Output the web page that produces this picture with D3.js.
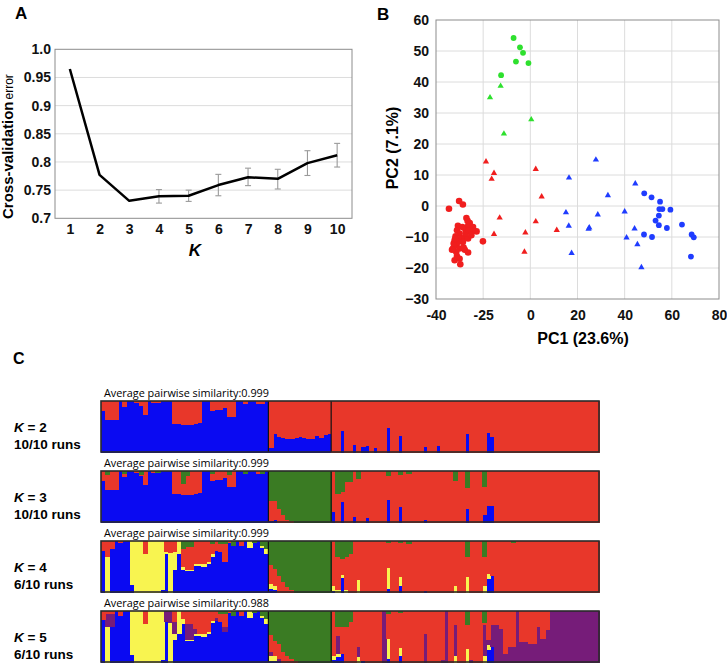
<!DOCTYPE html>
<html><head><meta charset="utf-8">
<script src="https://cdn.jsdelivr.net/npm/d3@7"></script>
<style>body{margin:0;background:#fff}svg{display:block}</style>
</head><body>
<svg id="chart" width="727" height="669"></svg>
<script>
// ---------------- Panel A data ----------------
const kValues = [1,2,3,4,5,6,7,8,9,10];
const cvError = [0.965,0.777,0.731,0.739,0.740,0.759,0.773,0.770,0.798,0.812];
const cvErrLow = [null,null,null,0.727,0.730,0.740,0.758,0.752,0.776,0.791];
const cvErrHigh = [null,null,null,0.751,0.750,0.778,0.789,0.787,0.820,0.833];
const cvTicks = [0.7,0.75,0.8,0.85,0.9,0.95,1.0];
const cvTickLabels = ["0.7","0.75","0.8","0.85","0.9","0.95","1.0"];

// ---------------- Panel B data ----------------
const pcXTicks = [-40,-20,0,20,40,60,80];
const pcXTickLabels = ["-40","-25","0","20","40","60","80"];
const pcYTicks = [-30,-20,-10,0,10,20,30,40,50,60];
const redCircles = [[-34.5,-0.9],[-30.2,1.6],[-28.6,0.5],[-27.1,-3.9],[-25.7,-5.5],[-26.4,-6.5],[-24.3,-6.8],[-22.8,-8.2],[-24.7,-8.0],[-27.4,-7.8],[-30.7,-6.4],[-31.1,-7.8],[-30.0,-8.9],[-31.7,-9.8],[-32.1,-11.1],[-32.8,-13.7],[-31.4,-12.7],[-29.3,-10.5],[-27.8,-10.2],[-26.4,-10.5],[-30.0,-13.7],[-27.8,-14.1],[-26.4,-15.0],[-32.1,-17.5],[-30.0,-17.0],[-29.7,-18.8],[-31.1,-16.2],[-28.6,-11.6],[-27.4,-8.9],[-26.0,-7.8],[-30.7,-11.6],[-32.5,-12.1],[-20.1,-11.4],[-28.8,-6.8],[-25.0,-9.4],[-31.4,-14.8],[-31.8,-10.6],[-26.6,-4.8],[-33.2,-14.1],[-28.3,-13.4]];
const redTriangles = [[-18.8,14.3],[-15.4,10.6],[-16.4,8.7],[2.3,11.9],[4.8,3.0],[-13.0,-3.8],[2.3,-5.0],[-15.4,-9.1],[-2.1,-8.6],[11.2,-7.8],[-2.5,-14.8]];
const greenCircles = [[-7.1,54.2],[-4.4,51.2],[-3.1,49.4],[-6.1,46.6],[-0.8,46.1],[-12.4,42.2]];
const greenTriangles = [[-12.6,38.7],[-17.1,35.0],[0.4,27.9],[-11.2,23.3]];
const blueTriangles = [[27.8,14.9],[16.4,9.1],[44.5,7.2],[32.9,3.4],[15.1,-2.1],[40.0,-1.8],[28.6,-2.8],[16.3,-6.4],[25.0,-7.0],[24.7,-7.4],[44.2,-7.3],[40.8,-10.2],[45.4,-12.4],[17.5,-15.2],[47.1,-19.8]];
const blueCircles = [[48.3,4.1],[51.4,2.8],[55.0,1.4],[54.7,-1.0],[56.0,-1.0],[59.4,-1.2],[53.1,-4.7],[54.5,-3.1],[54.5,-6.2],[57.9,-7.1],[64.3,-6.0],[48.2,-9.2],[51.6,-10.0],[68.4,-9.2],[69.3,-10.1],[68.1,-16.3]];

// ---------------- Panel C data ----------------
// individuals: 40 (group 1) + 15 (group 2) + 64 (group 3); red = remainder
const groupSizes = [40,15,64];
const rowLabels = ["2","3","4","5"];
const rowRuns = ["10/10 runs","10/10 runs","6/10 runs","6/10 runs"];
const rowSimilarity = ["0.999","0.999","0.999","0.988"];

const k2Blue = [.82,.64,.64,.64,1,.89,1,1,.98,.92, .73,1,.98,.97,1,1,1,.56,.55,.54, .54,.53,.55,.57,1,1,.82,.83,.83,.87, .69,.69,1,1,.95,1,1,.96,.96,1,
  .08,.37,.3,.28,.27,.27,.28,.3,.29,.27,.27,.32,.28,.35,.37,
  0,0,.43,0,0,.15,0,.1,.12,0, .08,0,0,.48,0,0,.33,0,0,0, 0,0,.1,0,0,.12,0,0,0,0, 0,0,.37,0,0,0,0,.38,.3,0, 0,0,0,0,0,0,0,0,0,0, 0,0,0,0,0,0,0,0,0,0, 0,0,0,0];

const k3Blue = [.82,.64,.64,.64,1,.89,1,1,.98,.92, .73,1,.98,.97,1,1,1,.56,.55,.54, .54,.53,.55,.57,1,1,.82,.83,.83,.87, .69,.69,1,1,.95,1,1,.96,.96,1,
  .03,.05,0,0,0,0,0,0,0,0,0,0,0,0,0,
  .2,0,.4,0,0,.1,0,0,.08,0, 0,0,0,.44,0,0,.3,0,0,0, 0,0,.04,0,0,0,0,0,0,0, 0,0,.27,0,0,0,.14,.33,.33,0, 0,0,0,0,0,0,0,0,0,0, 0,0,0,0,0,0,0,0,0,0, 0,0,0,0];
const k3Green = [0,.06,0,0,0,.05,0,0,0,.06, 0,0,0,.03,0,0,0,0,0,.25, .08,0,0,0,0,0,.05,0,0,0, .06,0,0,0,.05,0,0,0,.04,0,
  .57,.57,.73,.86,.95,.98,1,1,1,1,1,1,1,1,1,
  0,.45,.4,.2,.2,0,.15,0,0,0, 0,0,0,.08,0,0,.06,0,.04,0, 0,0,0,0,0,0,0,0,0,.19, 0,0,.32,0,0,0,.31,0,0,0, 0,0,0,0,0,0,0,0,0,0, 0,0,0,0,0,0,0,0,0,0, 0,0,0,0];

const k4Blue = [.82,0,.86,1,.97,1,1,.15,0,0, 0,0,0,0,.05,.75,0,.45,.75,.45, .42,.42,.52,.52,.5,.55,.7,.82,.8,.6, .97,.92,1,.92,1,.88,.97,1,.87,.75,
  .07,.05,0,0,0,0,0,0,0,0,0,0,0,0,0,
  .03,0,.28,0,0,0,0,0,0,0, 0,0,0,.07,0,0,.13,0,0,0, 0,0,.02,0,0,0,0,0,0,0, 0,0,0,0,0,0,0,.27,.32,0, 0,0,0,0,0,0,0,0,0,0, 0,0,0,0,0,0,0,0,0,0, 0,0,0,0];
const k4Yellow = [0,.7,0,0,0,0,0,.85,1,1, .75,1,1,1,.95,.05,.78,.35,.25,.05, .03,.03,.03,.03,.05,.05,.05,0,0,0, 0,0,0,0,0,.12,0,0,.05,.1,
  .1,.08,0,0,0,0,0,0,0,0,0,0,0,0,0,
  .1,.05,.07,.05,0,0,.24,0,0,0, 0,0,0,.42,0,0,.18,0,0,0, 0,0,0,0,0,0,0,0,0,.13, 0,0,.3,0,0,0,.13,.1,0,0, 0,0,0,0,0,0,0,0,0,0, 0,0,0,0,0,0,0,0,0,0, 0,0,0,0];
const k4Green = [0,0,0,0,0,0,0,0,0,0, 0,0,0,0,0,0,0,0,0,.15, .1,.1,0,0,0,0,.05,0,.05,.05, 0,.08,0,0,0,0,.03,0,.08,.15,
  .47,.54,.67,.8,.9,.95,1,1,1,1,1,1,1,1,1,
  0,.3,.35,.3,.25,0,0,0,0,0, 0,0,0,.03,0,0,.03,0,.04,0, 0,0,0,0,0,0,0,0,0,0, 0,0,.3,0,0,0,.3,0,0,0, 0,0,0,.03,0,0,0,0,0,0, 0,0,0,0,0,0,0,0,0,0, 0,0,0,0];

const k5Blue = [.83,0,.7,1,.92,1,1,.15,0,0, 0,0,0,0,.05,.8,0,.45,.55,.75, .42,.42,.52,.52,.5,.55,.77,.82,.8,.6, .97,.92,1,.92,1,.88,.97,1,.87,.75,
  .03,.03,.03,0,0,0,0,0,0,0,0,0,0,0,0,
  .05,.1,.17,0,0,0,0,.03,0,0, 0,0,0,.07,0,0,.13,0,0,0, 0,0,0,0,0,0,0,0,0,0, 0,0,0,0,0,0,0,.25,.3,0, 0,0,0,0,0,0,0,0,0,0, 0,0,0,0,0,0,0,0,0,0, 0,0,0,0];
const k5Yellow = [0,.7,0,0,0,0,0,.85,1,1, .75,1,1,1,.95,0,.78,.1,.45,.1, .03,.03,.03,.03,.05,.05,.05,0,0,0, 0,0,0,0,0,.12,0,0,.05,.1,
  .1,.1,0,0,0,0,0,0,0,0,0,0,0,0,0,
  .07,.07,0,0,0,0,.1,0,0,0, 0,0,0,.4,0,0,.16,0,0,0, 0,0,0,0,0,0,0,0,0,.13, 0,0,.26,0,0,0,.13,.1,0,0, 0,0,0,0,0,0,0,0,0,0, 0,0,0,0,0,0,0,0,0,0, 0,0,0,0];
const k5Purple = [0,.25,.25,0,0,0,0,0,0,0, 0,0,0,0,0,.2,.22,.25,0,0, .3,.3,.1,0,0,0,0,.05,0,.1, 0,0,0,0,0,0,0,0,0,0,
  .07,0,.03,0,0,0,0,0,0,0,0,0,0,0,0,
  0,.35,0,0,0,0,.2,0,0,0, 0,0,1,0,0,0,0,0,0,0, 0,0,.55,0,0,0,.05,1,0,.6, 0,0,0,.04,0,0,.6,.1,.43,.73, .66,.17,.3,.3,1,.4,.4,.37,.37,.7, .46,.64,1,1,1,1,1,1,1,1, 1,1,1,1];
const k5Green = [0,0,0,0,0,0,0,0,0,0, 0,0,0,0,0,0,0,0,0,0, 0,0,0,0,0,0,0,0,.05,.05, 0,.08,0,0,0,0,.03,0,.08,.15,
  .47,.57,.64,.8,.87,.93,.97,1,1,1,1,1,1,1,1,
  0,.3,.3,.3,.2,0,0,0,0,0, 0,0,0,.05,0,0,.03,0,0,0, 0,0,0,0,0,0,0,0,0,0, 0,0,.27,0,0,0,.22,0,0,0, 0,0,0,0,0,0,0,0,0,0, 0,0,0,0,0,0,0,0,0,0, 0,0,0,0];

const structRows = [
  {blue:k2Blue},
  {blue:k3Blue, green:k3Green},
  {blue:k4Blue, yellow:k4Yellow, green:k4Green},
  {blue:k5Blue, yellow:k5Yellow, purple:k5Purple, green:k5Green}
];

// ---------------- Drawing ----------------
const svg = d3.select("#chart");
svg.append("rect").attr("width",727).attr("height",669).attr("fill","#fff");
const FONT = "'Liberation Sans', Arial, sans-serif";

// Panel labels
svg.append("text").attr("x",15).attr("y",19).text("A").attr("font-family",FONT).attr("font-weight","bold").attr("font-size",17);
svg.append("text").attr("x",377).attr("y",20).text("B").attr("font-family",FONT).attr("font-weight","bold").attr("font-size",17);
svg.append("text").attr("x",13).attr("y",364).text("C").attr("font-family",FONT).attr("font-weight","bold").attr("font-size",16);

// ---- Panel A
(function(){
  const x = d3.scalePoint().domain(kValues).range([55,352]).padding(0.5);
  const y = d3.scaleLinear().domain([0.7,1.0]).range([218.3,49.3]);
  const g = svg.append("g");
  g.selectAll("line.grid").data(cvTicks.slice(1,-1)).join("line")
    .attr("x1",55).attr("x2",352).attr("y1",d=>y(d)).attr("y2",d=>y(d))
    .attr("stroke","#dcdcdc").attr("stroke-width",1);
  g.append("rect").attr("x",55).attr("y",y(1.0)).attr("width",297).attr("height",y(0.7)-y(1.0))
    .attr("fill","none").attr("stroke","#8c8c8c").attr("stroke-width",1);
  const ya = g.append("g").attr("transform","translate(55,0)")
    .call(d3.axisLeft(y).tickValues(cvTicks).tickFormat((d,i)=>cvTickLabels[i]).tickSize(0).tickPadding(4));
  ya.select(".domain").remove();
  ya.selectAll("text").attr("font-family",FONT).attr("font-weight","bold").attr("font-size",14).attr("fill","#111");
  const xa = g.append("g").attr("transform","translate(0,218.3)")
    .call(d3.axisBottom(x).tickSize(0).tickPadding(6));
  xa.select(".domain").remove();
  xa.selectAll("text").attr("font-family",FONT).attr("font-weight","bold").attr("font-size",14).attr("fill","#111");
  // error bars
  const eb = kValues.map((k,i)=>({k,lo:cvErrLow[i],hi:cvErrHigh[i]})).filter(d=>d.lo!=null);
  const ebg = g.selectAll("g.eb").data(eb).join("g").attr("stroke","#9a9a9a").attr("stroke-width",1.1);
  ebg.append("line").attr("x1",d=>x(d.k)).attr("x2",d=>x(d.k)).attr("y1",d=>y(d.lo)).attr("y2",d=>y(d.hi));
  ebg.append("line").attr("x1",d=>x(d.k)-3).attr("x2",d=>x(d.k)+3).attr("y1",d=>y(d.lo)).attr("y2",d=>y(d.lo));
  ebg.append("line").attr("x1",d=>x(d.k)-3).attr("x2",d=>x(d.k)+3).attr("y1",d=>y(d.hi)).attr("y2",d=>y(d.hi));
  // line
  g.append("path").datum(kValues.map((k,i)=>[k,cvError[i]]))
    .attr("d",d3.line().x(d=>x(d[0])).y(d=>y(d[1])))
    .attr("fill","none").attr("stroke","#000").attr("stroke-width",2.5).attr("stroke-linejoin","round");
  // axis titles
  g.append("text").attr("x",195).attr("y",256).attr("text-anchor","middle")
    .attr("font-family",FONT).attr("font-weight","bold").attr("font-style","italic").attr("font-size",17).text("K");
  const yt = g.append("text").attr("transform","translate(13,219) rotate(-90)").attr("font-family",FONT);
  yt.append("tspan").attr("font-weight","bold").attr("font-size",15).text("Cross-validation");
  yt.append("tspan").attr("font-size",12).attr("dx",2).text("error");
})();

// ---- Panel B
(function(){
  const x = d3.scaleLinear().domain([-40,80]).range([436,719]);
  const y = d3.scaleLinear().domain([-30,60]).range([299,20]);
  const g = svg.append("g");
  g.selectAll("line.gx").data(pcXTicks.slice(1,-1)).join("line")
    .attr("x1",d=>x(d)).attr("x2",d=>x(d)).attr("y1",y(60)).attr("y2",y(-30))
    .attr("stroke","#dcdcdc").attr("stroke-width",1);
  g.selectAll("line.gy").data(pcYTicks.slice(1,-1)).join("line")
    .attr("x1",x(-40)).attr("x2",x(80)).attr("y1",d=>y(d)).attr("y2",d=>y(d))
    .attr("stroke","#dcdcdc").attr("stroke-width",1);
  g.append("rect").attr("x",x(-40)).attr("y",y(60)).attr("width",x(80)-x(-40)).attr("height",y(-30)-y(60))
    .attr("fill","none").attr("stroke","#8c8c8c").attr("stroke-width",1);
  const ya = g.append("g").attr("transform",`translate(${x(-40)},0)`)
    .call(d3.axisLeft(y).tickValues(pcYTicks).tickSize(0).tickPadding(7));
  ya.select(".domain").remove();
  ya.selectAll("text").attr("font-family",FONT).attr("font-weight","bold").attr("font-size",14).attr("fill","#111");
  const xa = g.append("g").attr("transform",`translate(0,${y(-30)})`)
    .call(d3.axisBottom(x).tickValues(pcXTicks).tickFormat((d,i)=>pcXTickLabels[i]).tickSize(0).tickPadding(11));
  xa.select(".domain").remove();
  xa.selectAll("text").attr("font-family",FONT).attr("font-weight","bold").attr("font-size",14).attr("fill","#111");
  g.append("text").attr("x",583).attr("y",344).attr("text-anchor","middle")
    .attr("font-family",FONT).attr("font-weight","bold").attr("font-size",16).text("PC1 (23.6%)");
  g.append("text").attr("transform","translate(398,148) rotate(-90)").attr("text-anchor","middle")
    .attr("font-family",FONT).attr("font-weight","bold").attr("font-size",16).text("PC2 (7.1%)");
  const tri = d3.symbol().type(d3.symbolTriangle).size(17);
  function circles(data,color,r){
    g.append("g").selectAll("circle").data(data).join("circle")
      .attr("cx",d=>x(d[0])).attr("cy",d=>y(d[1])).attr("r",r).attr("fill",color);
  }
  function triangles(data,color){
    g.append("g").selectAll("path").data(data).join("path")
      .attr("d",tri).attr("transform",d=>`translate(${x(d[0])},${y(d[1])})`).attr("fill",color);
  }
  circles(redCircles,"#f01e1e",3.3);
  triangles(redTriangles,"#f01e1e");
  circles(greenCircles,"#2ee02e",2.9);
  triangles(greenTriangles,"#2ee02e");
  triangles(blueTriangles,"#1f3cff");
  circles(blueCircles,"#1f3cff",2.9);
})();

// ---- Panel C
(function(){
  const n = d3.sum(groupSizes);
  const x = d3.scaleBand().domain(d3.range(n)).range([101,599]).padding(0);
  const keys = ["blue","yellow","purple","red","green"];
  const colors = {blue:"#0a0af2", yellow:"#f8f450", purple:"#761c79", red:"#e8372a", green:"#3a7b23"};
  const rowTops = [401,471,541,611];
  const barH = 51;
  structRows.forEach((series,ri)=>{
    const top = rowTops[ri];
    const y = d3.scaleLinear().domain([0,1]).range([top+barH,top]);
    const data = d3.range(n).map(i=>{
      const o = {}; let s = 0;
      ["blue","yellow","purple","green"].forEach(k=>{ o[k] = series[k] ? series[k][i] : 0; s += o[k]; });
      o.red = Math.max(0, 1 - s);
      return o;
    });
    const stacked = d3.stack().keys(keys)(data);
    const g = svg.append("g");
    stacked.forEach(layer=>{
      g.append("g").attr("fill",colors[layer.key]).attr("shape-rendering","crispEdges").selectAll("rect")
        .data(layer.map((d,i)=>({i,y0:d[0],y1:d[1]})).filter(d=>d.y1-d.y0>0.0001))
        .join("rect")
        .attr("x",d=>x(d.i)).attr("width",x.bandwidth()+1)
        .attr("y",d=>y(d.y1)).attr("height",d=>y(d.y0)-y(d.y1)+0.5);
    });
    // group dividers
    let acc = 0;
    groupSizes.slice(0,-1).forEach(s=>{
      acc += s;
      g.append("line").attr("x1",x(acc)).attr("x2",x(acc)).attr("y1",top).attr("y2",top+barH)
        .attr("stroke","#111").attr("stroke-width",1.2);
    });
    g.append("rect").attr("x",101).attr("y",top).attr("width",498).attr("height",barH)
      .attr("fill","none").attr("stroke","#2a2a2a").attr("stroke-width",1.6);
    g.append("text").attr("x",104).attr("y",top-4)
      .attr("font-family","'Open Sans', sans-serif").attr("font-size",11)
      .attr("textLength",165).attr("lengthAdjust","spacingAndGlyphs")
      .text("Average pairwise similarity:" + rowSimilarity[ri]);
    const kl = g.append("text").attr("x",14).attr("y",top+31).attr("font-family",FONT)
      .attr("font-weight","bold").attr("font-size",13.5);
    kl.append("tspan").attr("font-style","italic").text("K");
    kl.append("tspan").text(" = " + rowLabels[ri]);
    g.append("text").attr("x",14).attr("y",top+48).attr("font-family",FONT)
      .attr("font-weight","bold").attr("font-size",13.5).text(rowRuns[ri]);
  });
})();
</script>
</body></html>
